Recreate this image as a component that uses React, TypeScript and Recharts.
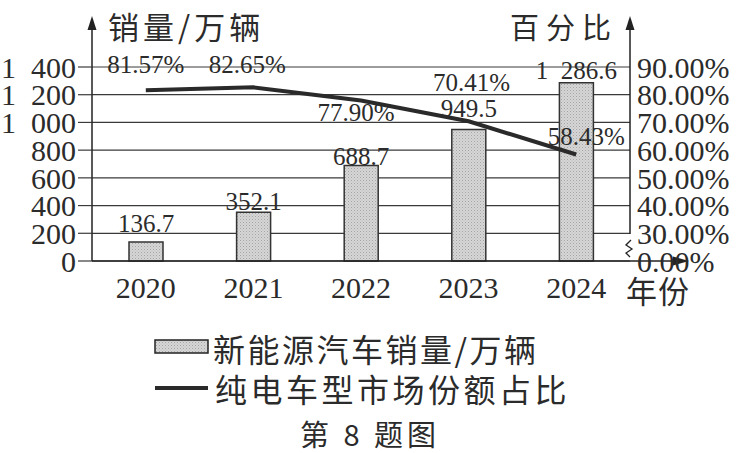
import React from 'react';
import {
  ComposedChart,
  Bar,
  Line,
  XAxis,
  YAxis,
  CartesianGrid,
  LabelList,
  Customized,
} from 'recharts';

// ---------- data ----------
const years = ['2020', '2021', '2022', '2023', '2024'];
const sales = [136.7, 352.1, 688.7, 949.5, 1286.6];
const share = [81.57, 82.65, 77.9, 70.41, 58.43];
const salesTicks = [0, 200, 400, 600, 800, 1000, 1200, 1400];
// 20 sits at the broken-axis position and is labelled 0.00%
const shareTicks = [20, 30, 40, 50, 60, 70, 80, 90];
const salesName = '新能源汽车销量/万辆';
const shareName = '纯电车型市场份额占比';
const leftTitle = '销量/万辆';
const rightTitle = '百分比';
const xTitle = '年份';
const caption = '第 8 题图';

// ---------- label placement (style only) ----------
const salesLabelLift = [19, 11, 9, 21, 12];
const shareLabelShift: [number, number][] = [
  [0, -26],
  [-6, -23],
  [-5, 12],
  [3, -39],
  [10, -18],
];

const data = years.map((y, i) => ({ year: y, sales: sales[i], share: share[i] }));

const SERIF = "'Liberation Serif', 'Times New Roman', serif";
const CJK = "'Noto Sans CJK SC', 'Noto Sans CJK JP', sans-serif";
const INK = '#2b2b2b';

const fmtNum = (v: number) => {
  const s = String(v);
  const [int, dec] = s.split('.');
  const i2 = int.length > 3 ? int.slice(0, -3) + '\u2002' + int.slice(-3) : int;
  return dec !== undefined ? i2 + '.' + dec : i2;
};
const fmtPct = (v: number) => (v === 20 ? '0.00%' : v.toFixed(2) + '%');

const SalesLabel = (props: any) => {
  const { x, y, width, value } = props;
  const idx = props.index ?? sales.indexOf(value);
  const lift = salesLabelLift[idx] ?? 10;
  return (
    <text
      x={Number(x) + Number(width) / 2}
      y={Number(y) - lift}
      textAnchor="middle"
      dominantBaseline="central"
      fontFamily={SERIF}
      fontSize={25}
      fill={INK}
    >
      {fmtNum(Number(value))}
    </text>
  );
};

const ShareLabel = (props: any) => {
  const { x, y, value } = props;
  const idx = props.index ?? share.indexOf(value);
  const [dx, dy] = shareLabelShift[idx] ?? [0, -20];
  return (
    <text
      x={Number(x) + dx}
      y={Number(y) + dy}
      textAnchor="middle"
      dominantBaseline="central"
      fontFamily={SERIF}
      fontSize={25}
      fill={INK}
    >
      {Number(value).toFixed(2) + '%'}
    </text>
  );
};

const Decor = () => (
  <g>
    {/* left axis extension + arrow */}
    <line x1={92} y1={24} x2={92} y2={67} stroke="#222" strokeWidth={1.5} />
    <polygon points="92,16 87.5,30 96.5,30" fill="#222" />
    {/* right axis (broken) + arrow */}
    <line x1={630} y1={24} x2={630} y2={234} stroke="#222" strokeWidth={1.5} />
    <polygon points="630,16 625.5,30 634.5,30" fill="#222" />
    <path
      d="M631,240 L626,245 L632,249 L626,253 L630,257"
      fill="none"
      stroke="#222"
      strokeWidth={1.3}
    />
    {/* x axis extension + arrow */}
    <line x1={630} y1={261} x2={676} y2={261} stroke="#222" strokeWidth={1.5} />
    <polygon points="689,261 673,256.5 673,265.5" fill="#222" />

    {/* axis titles */}
    <text x={108} y={25} dominantBaseline="central" fontFamily={CJK} fontSize={31} letterSpacing={4} fill={INK}>
      {leftTitle}
    </text>
    <text x={510} y={26} dominantBaseline="central" fontFamily={CJK} fontSize={29} letterSpacing={7} fill={INK}>
      {rightTitle}
    </text>
    <text x={626} y={289} dominantBaseline="central" fontFamily={CJK} fontSize={31} letterSpacing={1} fill={INK}>
      {xTitle}
    </text>

    {/* legend */}
    <rect x={155} y={340} width={53} height={13} fill="url(#stipple)" stroke="#222" strokeWidth={1.5} />
    <text x={213} y={348} dominantBaseline="central" fontFamily={CJK} fontSize={32} letterSpacing={2.5} fill={INK}>
      {salesName}
    </text>
    <line x1={155} y1={388} x2={208} y2={388} stroke="#2a2a2a" strokeWidth={4} />
    <text x={215} y={388} dominantBaseline="central" fontFamily={CJK} fontSize={32} letterSpacing={3.5} fill={INK}>
      {shareName}
    </text>

    {/* caption */}
    <text x={300} y={433} dominantBaseline="central" fontFamily={CJK} fontSize={29} letterSpacing={4} fill={INK}>
      {caption}
    </text>
  </g>
);

export default function App() {
  return (
    <div style={{ position: 'absolute', left: 0, top: 0, width: 742, height: 453, background: '#fff' }}>
      <ComposedChart
        width={742}
        height={453}
        data={data}
        margin={{ top: 67, right: 12, bottom: 152, left: 12 }}
      >
        <defs>
          <pattern id="stipple" width="3" height="3" patternUnits="userSpaceOnUse">
            <rect width="3" height="3" fill="#d6d6d6" />
            <rect x="0" y="0" width="1" height="1" fill="#a4a4a4" />
            <rect x="1.5" y="1.5" width="1" height="1" fill="#b8b8b8" />
          </pattern>
        </defs>
        <CartesianGrid yAxisId="left" vertical={false} stroke="#3a3a3a" strokeWidth={1.2} />
        <XAxis
          dataKey="year"
          height={40}
          tickLine={false}
          tickSize={0}
          tickMargin={16}
          axisLine={{ stroke: '#222', strokeWidth: 1.5 }}
          tick={{ fill: INK, fontSize: 30, fontFamily: SERIF }}
          interval={0}
        />
        <YAxis
          yAxisId="left"
          orientation="left"
          width={80}
          domain={[0, 1400]}
          ticks={salesTicks}
          interval={0}
          tickSize={14}
          tickMargin={2}
          tickFormatter={(v: number) => fmtNum(v)}
          tickLine={{ stroke: '#3a3a3a', strokeWidth: 1.2 }}
          axisLine={{ stroke: '#222', strokeWidth: 1.5 }}
          tick={{ fill: INK, fontSize: 30, fontFamily: SERIF }}
        />
        <YAxis
          yAxisId="right"
          orientation="right"
          width={100}
          domain={[20, 90]}
          ticks={shareTicks}
          interval={0}
          tickSize={0}
          tickMargin={7}
          tickFormatter={fmtPct}
          tickLine={false}
          axisLine={false}
          tick={{ fill: INK, fontSize: 30, fontFamily: SERIF }}
        />
        <Bar
          yAxisId="left"
          dataKey="sales"
          name={salesName}
          barSize={34}
          fill="url(#stipple)"
          stroke="#333"
          strokeWidth={1.5}
          isAnimationActive={false}
        >
          <LabelList dataKey="sales" content={<SalesLabel />} />
        </Bar>
        <Line
          yAxisId="right"
          dataKey="share"
          name={shareName}
          type="linear"
          stroke="#2a2a2a"
          strokeWidth={4}
          dot={false}
          activeDot={false}
          isAnimationActive={false}
        >
          <LabelList dataKey="share" content={<ShareLabel />} />
        </Line>
        <Customized component={<Decor />} />
      </ComposedChart>
    </div>
  );
}
